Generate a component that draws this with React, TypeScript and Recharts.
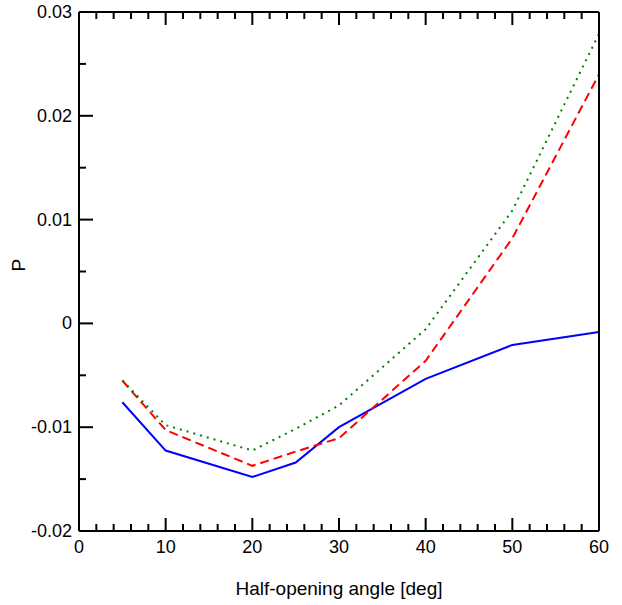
import React from "react";
import { LineChart, Line, XAxis, YAxis } from "recharts";

const angles = [5, 10, 20, 25, 30, 40, 50, 60];
const solidBlue = [-0.0076, -0.01225, -0.0148, -0.0134, -0.01, -0.00535, -0.00207, -0.00082];
const dashedRed = [-0.0055, -0.01028, -0.01372, -0.01235, -0.01106, -0.0036, 0.0082, 0.024];
const dottedGreen = [-0.0055, -0.0098, -0.01225, -0.01016, -0.0079, -0.00056, 0.01087, 0.0279];

const xTicks = [0, 2, 4, 6, 8, 10, 12, 14, 16, 18, 20, 22, 24, 26, 28, 30, 32, 34, 36, 38, 40, 42, 44, 46, 48, 50, 52, 54, 56, 58, 60];
const yTicks = [-0.02, -0.015, -0.01, -0.005, 0, 0.005, 0.01, 0.015, 0.02, 0.025, 0.03];

const data = angles.map((a, i) => ({
  angle: a,
  blue: solidBlue[i],
  red: dashedRed[i],
  green: dottedGreen[i],
}));

const FONT = "'Liberation Sans', Arial, sans-serif";
const isMajorX = (v: number) => v % 10 === 0;
const isMajorY = (v: number) => Math.abs(v * 100 - Math.round(v * 100)) < 1e-9;

const fmtY = (v: number) => {
  if (Math.abs(v) < 1e-12) return "0";
  return v.toFixed(2);
};

const BottomTick = (props: any) => {
  const { x, y, payload } = props;
  const major = isMajorX(payload.value);
  return (
    <g>
      <line x1={x} x2={x} y1={y} y2={y - (major ? 13 : 7)} stroke="#000" strokeWidth={2} />
      {major && (
        <text x={x} y={y + 22} textAnchor="middle" fontSize={18} fontFamily={FONT} fill="#000">
          {payload.value}
        </text>
      )}
    </g>
  );
};

const TopTick = (props: any) => {
  const { x, y, payload } = props;
  const major = isMajorX(payload.value);
  return <line x1={x} x2={x} y1={y} y2={y + (major ? 13 : 7)} stroke="#000" strokeWidth={2} />;
};

const LeftTick = (props: any) => {
  const { x, y, payload } = props;
  const major = isMajorY(payload.value);
  return (
    <g>
      <line x1={x} x2={x + (major ? 14 : 7)} y1={y} y2={y} stroke="#000" strokeWidth={2} />
      {major && (
        <text x={x - 7} y={y + 6} textAnchor="end" fontSize={18} fontFamily={FONT} fill="#000">
          {fmtY(payload.value)}
        </text>
      )}
    </g>
  );
};

const RightTick = (props: any) => {
  const { x, y, payload } = props;
  const major = isMajorY(payload.value);
  return <line x1={x} x2={x - (major ? 14 : 7)} y1={y} y2={y} stroke="#000" strokeWidth={2} />;
};

const axisLine = { stroke: "#000", strokeWidth: 2 };

export default function App() {
  return (
    <div style={{ position: "absolute", left: 0, top: 0, background: "#fff" }}>
      <LineChart width={622} height={605} data={data} margin={{ top: 11, right: 22, left: 0, bottom: 0 }}>
        <XAxis
          xAxisId="bottom"
          dataKey="angle"
          type="number"
          domain={[0, 60]}
          ticks={xTicks}
          interval={0}
          height={74}
          tickSize={0}
          tickMargin={0}
          tick={<BottomTick />}
          axisLine={axisLine}
          label={{
            value: "Half-opening angle [deg]",
            position: "insideBottom",
            offset: 10,
            fontSize: 19,
            fontFamily: FONT,
            fill: "#000",
          }}
        />
        <XAxis
          xAxisId="top"
          orientation="top"
          dataKey="angle"
          type="number"
          domain={[0, 60]}
          ticks={xTicks}
          interval={0}
          height={1}
          tickSize={0}
          tickMargin={0}
          tick={<TopTick />}
          axisLine={axisLine}
        />
        <YAxis
          yAxisId="left"
          type="number"
          domain={[-0.02, 0.03]}
          ticks={yTicks}
          interval={0}
          width={79}
          tickSize={0}
          tickMargin={0}
          tick={<LeftTick />}
          axisLine={axisLine}
          label={{
            value: "P",
            angle: -90,
            position: "insideLeft",
            offset: 18,
            fontSize: 19,
            fontFamily: FONT,
            fill: "#000",
          }}
        />
        <YAxis
          yAxisId="right"
          orientation="right"
          type="number"
          domain={[-0.02, 0.03]}
          ticks={yTicks}
          interval={0}
          width={1}
          tickSize={0}
          tickMargin={0}
          tick={<RightTick />}
          axisLine={axisLine}
        />
        <Line
          xAxisId="bottom"
          yAxisId="left"
          type="linear"
          dataKey="blue"
          stroke="#0000ff"
          strokeWidth={2}
          dot={false}
          isAnimationActive={false}
        />
        <Line
          xAxisId="bottom"
          yAxisId="left"
          type="linear"
          dataKey="red"
          stroke="#ff0000"
          strokeWidth={2}
          strokeDasharray="9 5"
          dot={false}
          isAnimationActive={false}
        />
        <Line
          xAxisId="bottom"
          yAxisId="left"
          type="linear"
          dataKey="green"
          stroke="#008000"
          strokeWidth={2}
          strokeDasharray="2 5"
          dot={false}
          isAnimationActive={false}
        />
      </LineChart>
    </div>
  );
}
